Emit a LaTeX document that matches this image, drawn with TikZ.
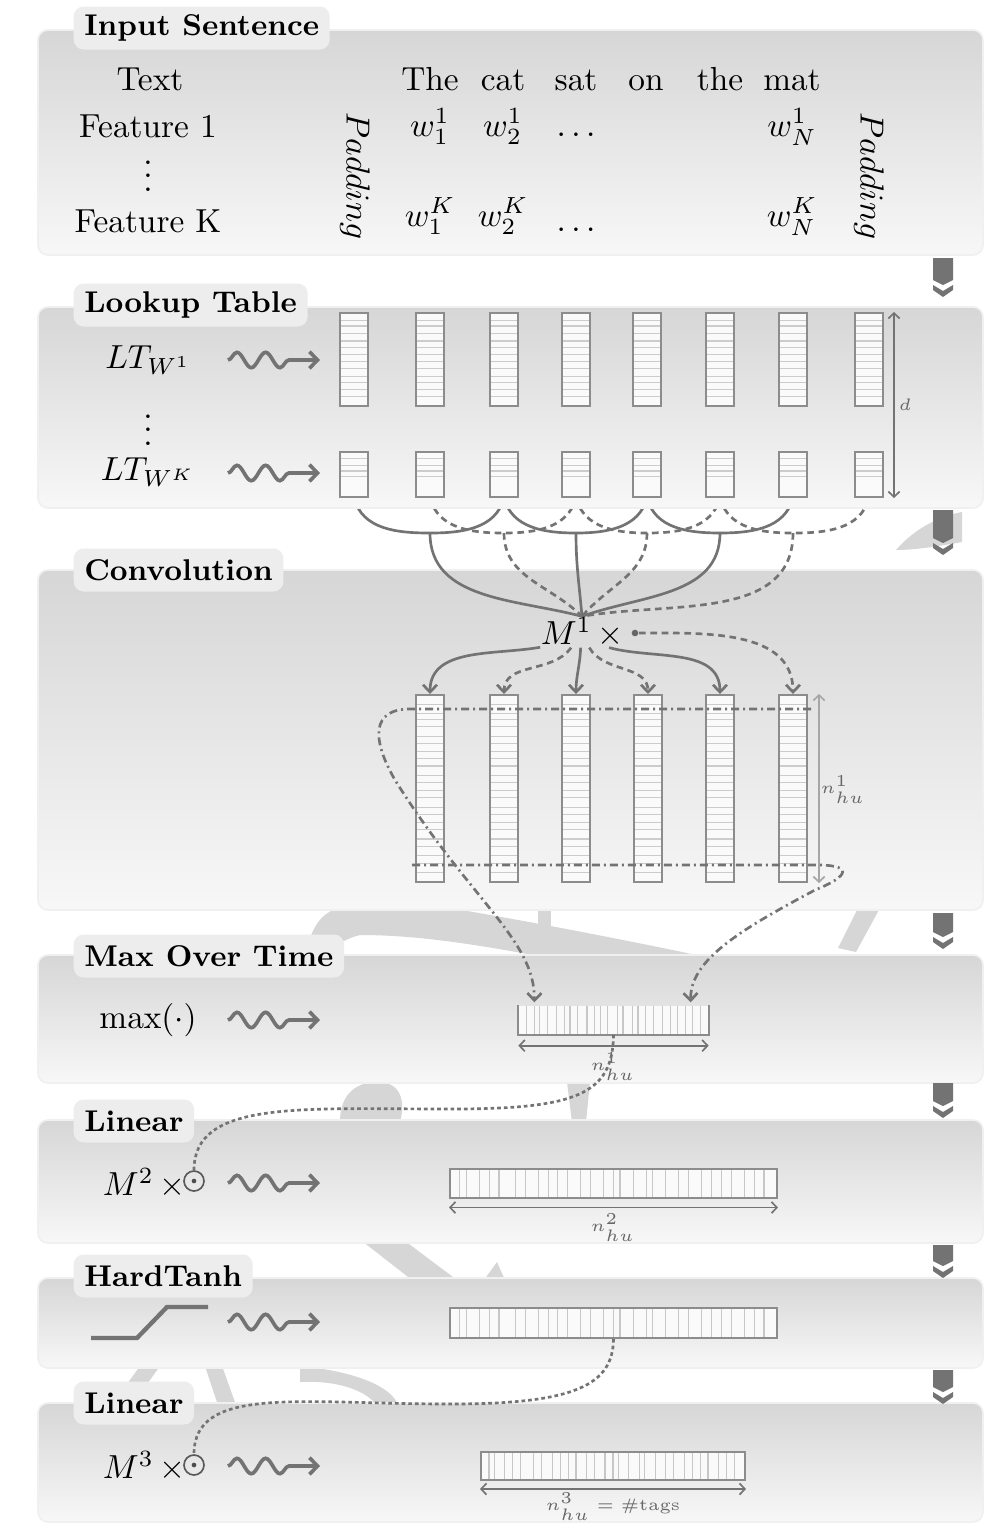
\documentclass[tikz,border=0pt]{standalone}
\usetikzlibrary{calc,arrows.meta,decorations.pathmorphing}
\pgfdeclarelayer{wm}
\pgfdeclarelayer{lower}
\pgfdeclarelayer{links}
\pgfsetlayers{wm,lower,links,main}
\begin{document}
\begin{tikzpicture}[x=0.3pt,y=-0.3pt,
  panel/.style={rounded corners=3pt, top color=black!16, bottom color=black!3, draw=black!6, line width=0.5pt},
  tab/.style={fill=black!7, rounded corners=3pt, anchor=west, inner xsep=3.2pt, inner ysep=0pt,
    minimum height=12.9pt, font=\fontsize{9}{10}\selectfont\bfseries},
  lbl/.style={font=\fontsize{10}{12}\selectfont, inner sep=0pt},
  tinylbl/.style={font=\fontsize{4}{5}\selectfont, inner sep=0pt, text=black!60},
  hstripes/.style={path picture={\foreach \f in {#1}
      \draw[black!20, line width=0.35pt]
        ($(path picture bounding box.north west)!\f!(path picture bounding box.south west)$) --
        ($(path picture bounding box.north east)!\f!(path picture bounding box.south east)$);}},
  vstripes/.style={path picture={\foreach \f in {#1}
      \draw[black!22, line width=0.35pt]
        ($(path picture bounding box.north west)!\f!(path picture bounding box.north east)$) --
        ($(path picture bounding box.south west)!\f!(path picture bounding box.south east)$);}},
  col/.style={draw=black!45, line width=0.6pt, fill=black!2, inner sep=0pt, minimum width=8.4pt},
  bar/.style={draw=black!45, line width=0.6pt, fill=black!2, inner sep=0pt, minimum height=8.7pt,
    vstripes={0.03,0.05,0.09,0.12,0.15,0.2,0.23,0.27,0.3,0.33,0.36,0.4,0.43,0.47,0.5,0.52,0.56,0.6,0.62,0.66,0.7,0.73,0.77,0.8,0.83,0.86,0.9,0.93,0.96}},
  conn/.style={draw=black!55, line width=0.8pt},
  connd/.style={conn, dash pattern=on 2pt off 1.4pt},
  dd/.style={draw=black!55, line width=0.8pt, dash pattern=on 2.4pt off 1.2pt on 0.6pt off 1.2pt},
  dots/.style={draw=black!55, line width=0.8pt, dash pattern=on 1.1pt off 0.9pt},
  arr/.style={-{Straight Barb[length=2.2pt,width=4.2pt]}},
  dimline/.style={draw=black!55, line width=0.5pt,
    {Straight Barb[length=1.6pt,width=3.4pt]}-{Straight Barb[length=1.6pt,width=3.4pt]}},
  snk/.style={draw=black!55, line width=1.1pt, decorate,
    decoration={snake, amplitude=2.3pt, segment length=8.6pt, post length=5.5pt},
    -{Straight Barb[length=2.4pt,width=5pt]}},
  odot/.style={circle, draw=black!65, line width=0.5pt, minimum size=6pt, inner sep=0pt,
    path picture={\fill[black!70] (path picture bounding box.center) circle (0.7pt);}},
  wmark/.style={fill=black!16},
  darr/.style={fill=black!55},
]
\useasboundingbox (0,0) rectangle (985,1525);

% ---------- faint tree silhouette behind the layers ----------
\begin{pgfonlayer}{wm}
  \fill[white] (0,0) rectangle (985,1525);
  \fill[wmark] (896,550) .. controls (915,528) and (940,516) .. (962,512) -- (962,542)
     .. controls (940,546) and (915,550) .. cycle;
  \fill[wmark] (305,958) .. controls (310,930) and (320,912) .. (340,908) -- (450,908)
     .. controls (550,925) and (650,945) .. (720,960) -- (560,960)
     .. controls (480,945) and (420,935) .. (360,935)
     .. controls (340,940) and (330,950) .. (325,960) -- cycle;
  \fill[wmark] (538,908) rectangle (551,936);
  \fill[wmark] (838,948) -- (858,908) -- (880,908) -- (856,952) -- cycle;
  \fill[wmark] (340,1122) .. controls (340,1092) and (358,1082) .. (378,1082)
     .. controls (400,1082) and (406,1100) .. (400,1122) -- cycle;
  \fill[wmark] (567,1082) -- (590,1082) -- (586,1122) -- (572,1122) -- cycle;
  \fill[wmark] (362,1241) -- (405,1241) -- (457,1280) -- (412,1280) -- cycle;
  \fill[wmark] (484,1280) -- (497,1262) -- (505,1280) -- cycle;
  \fill[wmark] (112,1405) -- (140,1366) -- (160,1366) -- (132,1405) -- cycle;
  \fill[wmark] (205,1366) -- (222,1366) -- (236,1405) -- (218,1405) -- cycle;
  \fill[wmark] (300,1366) .. controls (360,1372) and (392,1388) .. (398,1405) -- (376,1405)
     .. controls (368,1392) and (340,1380) .. (300,1382) -- cycle;
\end{pgfonlayer}

% ---------- lower panels ----------
\begin{pgfonlayer}{lower}
  \path[panel] (38,570) rectangle (983,910);
  \path[panel] (38,955) rectangle (983,1083);
  \path[panel] (38,1120) rectangle (983,1243);
  \path[panel] (38,1278) rectangle (983,1368);
  \path[panel] (38,1403) rectangle (983,1522);
\end{pgfonlayer}

% ---------- upper panels ----------
\path[panel] (38,30) rectangle (983,255);
\path[panel] (38,307) rectangle (983,508);

% ---------- layer titles ----------
\node[tab] (t1) at (73,28) {Input Sentence};
\node[tab] (t2) at (73,305) {Lookup Table};
\node[tab] (t3) at (73,570) {Convolution};
\node[tab] (t4) at (73,956) {Max Over Time};
\node[tab] (t5) at (73,1121) {Linear};
\node[tab] (t6) at (73,1276) {HardTanh};
\node[tab] (t7) at (73,1403) {Linear};

% ---------- flow markers on the right ----------
\foreach \t/\b in {258/280, 510/538, 913/932, 1083/1101, 1245/1261, 1370/1387} {
  \fill[darr] (933,\t) -- (953,\t) -- (953,\b) -- (943,{\b+5}) -- (933,\b) -- cycle;
  \fill[darr] (933,{\b+5}) -- (943,{\b+11}) -- (953,{\b+5}) -- (953,{\b+10})
     -- (943,{\b+17}) -- (933,{\b+10}) -- cycle;
}

% ---------- input sentence ----------
\node[lbl, anchor=base] (txt) at (150,90) {Text};
\node[lbl, anchor=base] (f1) at (148,137) {Feature 1};
\node[lbl] (fv) at (148,166) {$\vdots$};
\node[lbl, anchor=base] (fk) at (148,232) {Feature K};
\foreach \x/\w [count=\n] in {430/The, 503/cat, 576/sat, 646/on, 720/the, 792/mat}
  \node[lbl, anchor=base] (word\n) at (\x,90) {\w};
\node[lbl, anchor=base] (wa1) at (430,136) {$w_1^1$};
\node[lbl, anchor=base] (wa2) at (503,136) {$w_2^1$};
\node[lbl, anchor=base] (wad) at (576,136) {$\dots$};
\node[lbl, anchor=base] (waN) at (792,136) {$w_N^1$};
\node[lbl, anchor=base] (wk1) at (430,226) {$w_1^K$};
\node[lbl, anchor=base] (wk2) at (503,226) {$w_2^K$};
\node[lbl, anchor=base] (wkd) at (576,231) {$\dots$};
\node[lbl, anchor=base] (wkN) at (792,226) {$w_N^K$};
\node[lbl, rotate=-90] (padL) at (355,176) {$Padding$};
\node[lbl, rotate=-90] (padR) at (869,176) {$Padding$};

% ---------- lookup table ----------
\node[lbl] (lt1) at (148,360) {$LT_{W^1}$};
\node[lbl] (ltv) at (148,420) {$\vdots$};
\node[lbl] (ltk) at (148,472) {$LT_{W^K}$};
\coordinate (sa1) at (228,360); \coordinate (sb1) at (320,360);
\coordinate (sa2) at (228,473); \coordinate (sb2) at (320,473);
\draw[snk] (sa1) -- (sb1);
\draw[snk] (sa2) -- (sb2);
\foreach \x [count=\i] in {354,430,504,576,647,720,793,869} {
  \node[col, minimum height=27.9pt,
    hstripes={0.08,0.14,0.22,0.3,0.37,0.45,0.52,0.6,0.68,0.75,0.82,0.9}] (lu\i) at (\x,359.5) {};
  \node[col, minimum height=13.5pt, hstripes={0.15,0.3,0.42,0.55}] (lk\i) at (\x,474.5) {};
}
\draw[dimline] ($(lu8.north east)+(10,0)$) -- ($(lk8.south east)+(10,0)$);
\node[tinylbl] (dlab) at (905,405) {$d$};

% ---------- convolution ----------
\node[lbl] (M1) at (582,632) {$M^1\,\times$};
\node[circle, fill=black!60, inner sep=0pt, minimum size=2pt] (dot) at (635,633) {};
\foreach \x [count=\i] in {430,504,576,648,720,793}
  \node[col, minimum height=56.1pt,
    hstripes={0.05,0.1,0.13,0.17,0.22,0.26,0.3,0.34,0.38,0.43,0.47,0.51,0.55,0.6,0.64,0.68,0.72,0.77,0.81,0.86,0.9,0.95}]
    (cv\i) at (\x,788.5) {};
\foreach \k/\c in {1/2,2/3,3/4,4/5,5/6,6/7}
  \coordinate (w\k) at ($(lk\c.south)+(0,35)$);

\begin{pgfonlayer}{links}
  \foreach \k/\r/\st in {1/3/conn,2/4/connd,3/5/conn,4/6/connd,5/7/conn,6/8/connd}
    \draw[\st] (lk\k.south) to[out=-75,in=180] (w\k) to[out=0,in=-105] (lk\r.south);
  \draw[conn]  (w1) to[out=-90,in=165] (M1.north);
  \draw[connd] (w2) to[out=-90,in=135] (M1.north);
  \draw[conn]  (w3) to[out=-90,in=95]  (M1.north);
  \draw[connd] (w4) to[out=-90,in=50]  (M1.north);
  \draw[conn]  (w5) to[out=-90,in=20]  (M1.north);
  \draw[connd] (w6) to[out=-90,in=10]  (M1.north);
\end{pgfonlayer}

\draw[conn,arr]  (M1.200) to[out=190,in=90] (cv1.north);
\draw[connd,arr] (M1.235) to[out=235,in=90] (cv2.north);
\draw[conn,arr]  (M1.265) to[out=-92,in=90] (cv3.north);
\draw[connd,arr] (M1.295) to[out=-60,in=90] (cv4.north);
\draw[conn,arr]  (M1.330) to[out=-15,in=90] (cv5.north);
\draw[connd,arr] (dot) to[out=0,in=90] (cv6.north);

\draw[dimline, draw=black!35] ($(cv6.north east)+(11,0)$) -- ($(cv6.south east)+(11,0)$);
\node[tinylbl] (nconv) at (843,790) {$n^1_{hu}$};

\coordinate (tl) at ($(cv1.north west)+(-3,15)$);
\coordinate (tr) at ($(cv6.north east)+(3,15)$);
\coordinate (bl) at ($(cv1.south west)+(-3,-18)$);
\coordinate (br) at ($(cv6.south east)+(3,-18)$);

% ---------- max over time ----------
\node[lbl] (maxf) at (148,1020) {$\max(\cdot)$};
\coordinate (sa3) at (228,1020); \coordinate (sb3) at (320,1020);
\draw[snk] (sa3) -- (sb3);
\node[inner sep=0pt, minimum width=56.7pt, minimum height=8.4pt, fill=black!2,
  vstripes={0.04,0.08,0.11,0.15,0.2,0.24,0.27,0.31,0.36,0.4,0.43,0.47,0.52,0.55,0.6,0.63,0.67,0.71,0.76,0.8,0.84,0.88,0.92,0.96}]
  (mx) at (613.5,1020) {};
\draw[draw=black!45, line width=0.6pt] (mx.north west) -- (mx.south west) -- (mx.south east) -- (mx.north east);
\draw[dimline] ($(mx.south west)+(0,11)$) -- ($(mx.south east)+(0,11)$);
\node[tinylbl] (nmax) at (613,1067) {$n^1_{hu}$};
\coordinate (mxL) at ($(mx.north west)+(16,-3)$);
\coordinate (mxR) at ($(mx.north east)+(-18,-3)$);

\draw[dd,arr] (tr) -- (tl) .. controls (370,708) and (372,740) .. (395,780)
   .. controls (470,900) and (535,940) .. (mxL);
\draw[dd,arr] (bl) -- (br) .. controls (855,864) and (850,876) .. (815,890)
   .. controls (740,930) and (690,960) .. (mxR);

% ---------- linear ----------
\node[lbl, anchor=east] (m2) at (186,1183) {$M^2\,\times$};
\node[odot] (od2) at (194,1181) {};
\coordinate (sa4) at (228,1183); \coordinate (sb4) at (320,1183);
\draw[snk] (sa4) -- (sb4);
\node[bar, minimum width=98.1pt] (l2) at (613.5,1183) {};
\draw[dimline] ($(l2.south west)+(0,9)$) -- ($(l2.south east)+(0,9)$);
\node[tinylbl] (nl2) at (613,1228) {$n^2_{hu}$};
\draw[dots] (mx.south) .. controls (613,1095) and (575,1109) .. (450,1109)
   .. controls (300,1109) and (194,1100) .. (od2.north);

% ---------- hard tanh ----------
\draw[black!55, line width=1.3pt] (91,1338) -- (137,1338) -- (167,1307) -- (208,1307);
\coordinate (sa5) at (228,1322); \coordinate (sb5) at (320,1322);
\draw[snk] (sa5) -- (sb5);
\node[bar, minimum width=98.1pt, minimum height=9pt] (ht) at (613.5,1323) {};

% ---------- output linear ----------
\node[lbl, anchor=east] (m3) at (186,1466) {$M^3\,\times$};
\node[odot] (od3) at (194,1465) {};
\coordinate (sa6) at (228,1466); \coordinate (sb6) at (320,1466);
\draw[snk] (sa6) -- (sb6);
\node[bar, minimum width=79.2pt, minimum height=8.4pt] (l3) at (613,1466) {};
\draw[dimline] ($(l3.south west)+(0,8)$) -- ($(l3.south east)+(0,8)$);
\node[tinylbl, font=\fontsize{5}{6}\selectfont] (nl3) at (613,1507) {$n^3_{hu} = \#\mathrm{tags}$};
\draw[dots] (ht.south) .. controls (613,1385) and (575,1404) .. (450,1404)
   .. controls (300,1404) and (194,1385) .. (od3.north);
\end{tikzpicture}
\end{document}
